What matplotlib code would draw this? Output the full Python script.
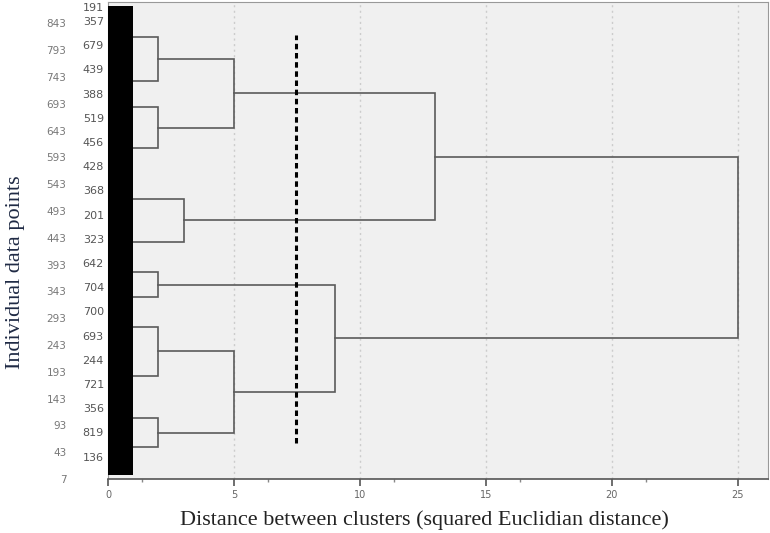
import numpy as np
import matplotlib.pyplot as plt

# case numbers on the outer axis (bottom -> top)
outer_labels = ['7', '43', '93', '143', '193', '243', '293', '343', '393', '443',
                '493', '543', '593', '643', '693', '743', '793', '843']
# leaf labels next to the tree (top -> bottom)
inner_labels = ['191', '357', '679', '439', '388', '519', '456', '428', '368', '201',
                '323', '642', '704', '700', '693', '244', '721', '356', '819', '136']

# leaf branches (y position, top -> bottom) and merges (child a, child b, distance)
leaf_y = [16.49, 14.85, 13.88, 12.35, 10.45, 8.86, 7.72, 6.79, 5.69, 3.86, 2.27, 1.19]
leaf_x = 1.0
merges = [
    (0, 1, 2), (2, 3, 2), (12, 13, 5), (4, 5, 3), (14, 15, 13),
    (6, 7, 2), (8, 9, 2), (10, 11, 2), (18, 19, 5), (17, 20, 9), (16, 21, 25),
]
cut_dist = 7.45

fig = plt.figure(figsize=(7.7, 5.33), dpi=100)
ax = fig.add_axes([0.1403, 0.1013, 0.8571, 0.895])
ax.set_facecolor('#f0f0f0')

# tree
nodes = [(leaf_x, y) for y in leaf_y]
lc = '#5a5a5a'
for a, b, d in merges:
    xa, ya = nodes[a]
    xb, yb = nodes[b]
    ax.plot([xa, d, d, xb], [ya, ya, yb, yb], color=lc, lw=1.2, solid_joinstyle='miter')
    nodes.append((d, (ya + yb) / 2))

# block of merged cases at distance 0-1
ax.bar(0.5, 17.65 - 0.16, bottom=0.16, width=1.0, color='black', zorder=3)

# cut line
ax.plot([cut_dist, cut_dist], [1.34, 16.57], color='black', lw=2.2,
        dashes=(1.8, 1.2), zorder=4)

ax.set_xlim(0, 26.2)
ax.set_ylim(0, 17.8)
ax.set_xticks([0, 5, 10, 15, 20, 25])
ax.set_xticks([1.35, 6.35, 11.35, 16.35, 21.35], minor=True)
for g in [5, 10, 15, 20, 25]:
    ax.axvline(g, color='#cccccc', lw=1, ls=(0, (1.5, 2.5)), zorder=0)
ax.tick_params(axis='x', which='major', length=5, width=1.2, color='#555555',
               labelsize=7, labelcolor='#666666', pad=3)
ax.tick_params(axis='x', which='minor', length=2, width=1, color='#888888')

inner_y = [17.61] + list(17.09 - 0.903 * np.arange(19))
ax.set_yticks(inner_y)
ax.set_yticklabels(inner_labels)
ax.tick_params(axis='y', length=0, labelsize=8, labelcolor='#555555', pad=3)

sec = ax.secondary_yaxis('left')
sec.set_yticks(np.arange(len(outer_labels)))
sec.set_yticklabels(outer_labels)
sec.tick_params(length=0, labelsize=7.5, labelcolor='#777777', pad=30)
sec.spines['left'].set_visible(False)

for s in ax.spines.values():
    s.set_color('#999999')
ax.spines['bottom'].set_color('#555555')
ax.spines['bottom'].set_linewidth(1.2)

fig.text(0.551, 0.025, 'Distance between clusters (squared Euclidian distance)',
         family='Liberation Serif', fontsize=16, color='#222222',
         ha='center', va='center')
fig.text(0.02, 0.49, 'Individual data points', family='Liberation Serif',
         fontsize=16, color='#1f2a44', rotation=90, ha='center', va='center')

fig.savefig('out.png', dpi=100)
